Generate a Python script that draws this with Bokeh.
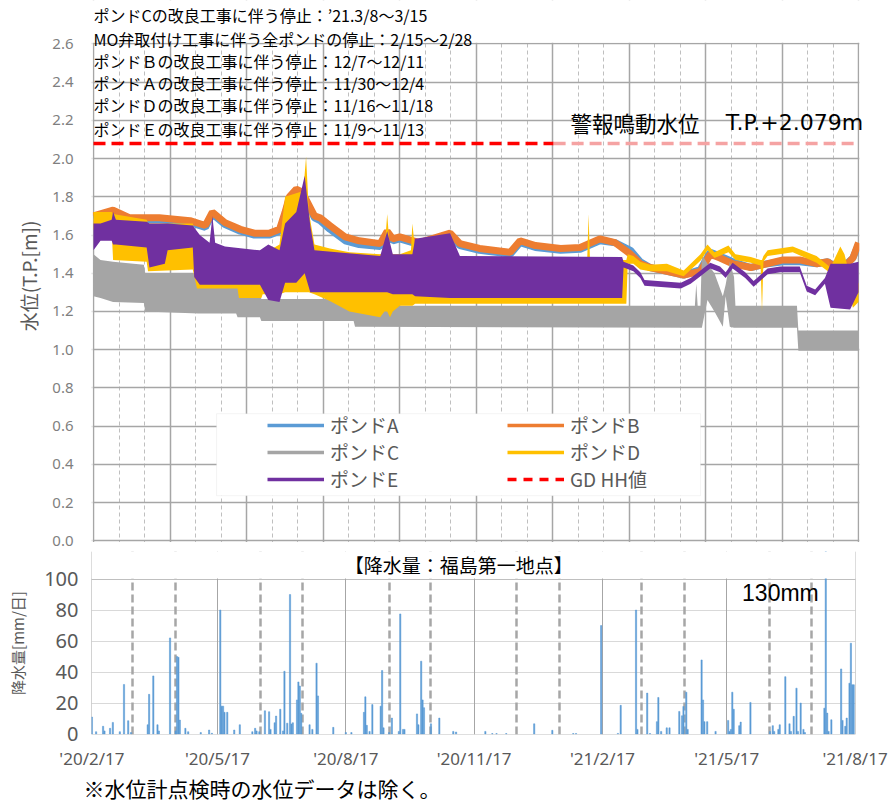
import pandas as pd
from bokeh.plotting import figure
from bokeh.models import (Range1d, FixedTicker, NumeralTickFormatter, Label, Legend,
                          LegendItem, BoxAnnotation, Grid, Title)
from bokeh.layouts import column
from bokeh.embed import file_html
from bokeh.resources import INLINE

# ---------------- data ----------------
X0, X1 = "2020-02-17", "2021-08-17"
HH_VALUE = 2.079

ab_dates = ["2020-02-17", "2020-03-02", "2020-03-14", "2020-04-04", "2020-04-26", "2020-05-07",
            "2020-05-12", "2020-05-21", "2020-06-01", "2020-06-11", "2020-06-22", "2020-06-29",
            "2020-07-03", "2020-07-06", "2020-07-11", "2020-07-14", "2020-07-17", "2020-07-24",
            "2020-07-28", "2020-08-04", "2020-08-15", "2020-08-25", "2020-09-09", "2020-09-14",
            "2020-09-18", "2020-09-23", "2020-10-07", "2020-10-29", "2020-11-05", "2020-11-19",
            "2020-12-11", "2020-12-18", "2020-12-29", "2021-01-16", "2021-01-30", "2021-02-13",
            "2021-02-24", "2021-03-07", "2021-03-14", "2021-03-21", "2021-04-02", "2021-04-14",
            "2021-04-26", "2021-05-03", "2021-05-10", "2021-05-19", "2021-06-01", "2021-06-13",
            "2021-06-24", "2021-07-06", "2021-07-18", "2021-07-26", "2021-08-04", "2021-08-13",
            "2021-08-17"]
pond_b = [1.70, 1.73, 1.69, 1.69, 1.675, 1.65, 1.72, 1.665, 1.63, 1.61, 1.61, 1.63,
          1.72, 1.80, 1.84, 1.83, 1.80, 1.70, 1.69, 1.65, 1.59, 1.57, 1.555, 1.62,
          1.58, 1.59, 1.56, 1.61, 1.555, 1.53, 1.51, 1.57, 1.545, 1.53, 1.535, 1.58,
          1.56, 1.50, 1.45, 1.43, 1.41, 1.39, 1.41, 1.50, 1.48, 1.45, 1.43, 1.45,
          1.47, 1.47, 1.45, 1.46, 1.41, 1.48, 1.56]
pond_a = [1.69, 1.72, 1.68, 1.68, 1.665, 1.64, 1.71, 1.655, 1.62, 1.60, 1.60, 1.62,
          1.71, 1.79, 1.83, 1.82, 1.79, 1.69, 1.675, 1.63, 1.57, 1.55, 1.54, 1.61,
          1.57, 1.58, 1.55, 1.60, 1.545, 1.52, 1.50, 1.56, 1.535, 1.52, 1.525, 1.57,
          1.56, 1.52, 1.46, 1.43, 1.41, 1.39, 1.42, 1.51, 1.49, 1.46, 1.43, 1.45,
          1.46, 1.46, 1.45, 1.46, 1.42, 1.48, 1.55]

c_dates = ["2020-02-17", "2020-02-22", "2020-03-02", "2020-03-24", "2020-03-25", "2020-05-02",
           "2020-05-03", "2020-05-29", "2020-05-30", "2020-06-15", "2020-06-16", "2020-08-21",
           "2020-08-22", "2021-04-22", "2021-04-23", "2021-04-24", "2021-04-26", "2021-04-27",
           "2021-05-01", "2021-05-06", "2021-05-12", "2021-05-14", "2021-05-17", "2021-05-20",
           "2021-05-21", "2021-07-04", "2021-07-05", "2021-08-17"]
c_low = [1.28, 1.27, 1.25, 1.245, 1.20, 1.19, 1.19, 1.19, 1.17, 1.17, 1.15, 1.15,
         1.12, 1.115, 1.115, 1.115, 1.115, 1.115, 1.26, 1.20, 1.12, 1.28, 1.12, 1.115,
         1.115, 1.115, 0.995, 0.995]
c_high = [1.50, 1.47, 1.46, 1.445, 1.40, 1.40, 1.345, 1.34, 1.33, 1.30, 1.265, 1.265,
          1.23, 1.23, 1.345, 1.23, 1.23, 1.50, 1.45, 1.40, 1.28, 1.34, 1.46, 1.38,
          1.23, 1.23, 1.10, 1.10]

d_dates = ["2020-02-17", "2020-03-01", "2020-03-02", "2020-03-26", "2020-03-27", "2020-04-28",
           "2020-05-01", "2020-05-30", "2020-05-31", "2020-06-16", "2020-06-17", "2020-06-29",
           "2020-07-03", "2020-07-16", "2020-07-18", "2020-07-20", "2020-07-24", "2020-08-04",
           "2020-08-18", "2020-09-09", "2020-09-12", "2020-09-14", "2020-09-16", "2020-09-18",
           "2020-09-23", "2020-10-01", "2020-10-02", "2020-10-04", "2020-11-01", "2021-02-04",
           "2021-02-05", "2021-02-06", "2021-03-04", "2021-03-05", "2021-03-09", "2021-03-14",
           "2021-03-21", "2021-04-02", "2021-04-14", "2021-04-26", "2021-05-01", "2021-05-06",
           "2021-05-16", "2021-05-21", "2021-06-01", "2021-06-08", "2021-06-09", "2021-06-10",
           "2021-06-13", "2021-07-01", "2021-07-18", "2021-07-28", "2021-08-04", "2021-08-07",
           "2021-08-13", "2021-08-17"]
d_low = [1.63, 1.62, 1.47, 1.46, 1.41, 1.42, 1.32, 1.32, 1.27, 1.27, 1.29, 1.29,
         1.30, 1.30, 1.30, 1.30, 1.29, 1.255, 1.20, 1.17, 1.20, 1.20, 1.17, 1.20,
         1.23, 1.23, 1.23, 1.24, 1.24, 1.24, 1.24, 1.24, 1.24, 1.45, 1.45, 1.42,
         1.41, 1.41, 1.385, 1.465, 1.52, 1.48, 1.51, 1.47, 1.455, 1.44, 1.20, 1.46,
         1.49, 1.51, 1.455, 1.40, 1.45, 1.40, 1.22, 1.25]
d_high = [1.72, 1.72, 1.71, 1.68, 1.66, 1.66, 1.55, 1.52, 1.52, 1.50, 1.50, 1.55,
          1.80, 1.83, 2.01, 1.72, 1.55, 1.53, 1.51, 1.50, 1.51, 1.71, 1.52, 1.50,
          1.50, 1.52, 1.66, 1.52, 1.47, 1.47, 1.71, 1.47, 1.47, 1.50, 1.49, 1.46,
          1.445, 1.45, 1.415, 1.50, 1.55, 1.51, 1.545, 1.50, 1.485, 1.47, 1.47, 1.49,
          1.52, 1.54, 1.49, 1.43, 1.54, 1.50, 1.32, 1.35]

e_dates = ["2020-02-17", "2020-02-22", "2020-03-01", "2020-03-02", "2020-03-04", "2020-03-26",
           "2020-03-28", "2020-04-08", "2020-04-10", "2020-04-28", "2020-04-29", "2020-05-03",
           "2020-05-10", "2020-05-12", "2020-05-14", "2020-05-21", "2020-06-15", "2020-06-21",
           "2020-06-29", "2020-07-03", "2020-07-11", "2020-07-17", "2020-07-21", "2020-07-24",
           "2020-09-09", "2020-09-14", "2020-09-18", "2020-10-02", "2020-10-04", "2020-10-29",
           "2020-11-05", "2021-03-01", "2021-03-02", "2021-03-09", "2021-03-14", "2021-03-17",
           "2021-04-12", "2021-04-19", "2021-04-26", "2021-05-03", "2021-05-10", "2021-05-14",
           "2021-05-19", "2021-05-28", "2021-06-03", "2021-06-13", "2021-06-22", "2021-07-06",
           "2021-07-11", "2021-07-17", "2021-07-24", "2021-07-28", "2021-08-11", "2021-08-17"]
e_low = [1.52, 1.57, 1.57, 1.55, 1.55, 1.535, 1.43, 1.45, 1.52, 1.535, 1.38, 1.34,
         1.34, 1.34, 1.34, 1.34, 1.34, 1.26, 1.25, 1.35, 1.35, 1.40, 1.30, 1.30,
         1.30, 1.30, 1.29, 1.29, 1.28, 1.27, 1.27, 1.27, 1.43, 1.41, 1.375, 1.335,
         1.32, 1.345, 1.385, 1.425, 1.405, 1.375, 1.425, 1.375, 1.33, 1.395, 1.405, 1.405,
         1.305, 1.285, 1.345, 1.22, 1.21, 1.30]
e_high = [1.66, 1.66, 1.68, 1.72, 1.68, 1.67, 1.66, 1.66, 1.66, 1.65, 1.64, 1.60,
          1.56, 1.70, 1.56, 1.54, 1.52, 1.55, 1.52, 1.66, 1.72, 1.91, 1.65, 1.52,
          1.49, 1.62, 1.50, 1.50, 1.58, 1.61, 1.49, 1.485, 1.46, 1.44, 1.405, 1.365,
          1.35, 1.375, 1.415, 1.455, 1.435, 1.405, 1.455, 1.405, 1.36, 1.425, 1.435, 1.435,
          1.335, 1.315, 1.375, 1.45, 1.45, 1.46]

rain_dates = ["2020-02-17", "2020-02-20", "2020-02-25", "2020-02-26", "2020-03-01", "2020-03-03",
              "2020-03-08", "2020-03-11", "2020-03-14", "2020-03-16", "2020-03-28", "2020-03-29",
              "2020-04-01", "2020-04-04", "2020-04-05", "2020-04-13", "2020-04-17", "2020-04-18",
              "2020-04-19", "2020-04-20", "2020-04-24", "2020-04-26", "2020-05-05", "2020-05-11",
              "2020-05-13", "2020-05-19", "2020-05-20", "2020-05-21", "2020-05-22", "2020-05-24",
              "2020-05-29", "2020-06-02", "2020-06-11", "2020-06-13", "2020-06-14", "2020-06-16",
              "2020-06-20", "2020-06-23", "2020-06-24", "2020-06-27", "2020-06-28", "2020-07-01",
              "2020-07-03", "2020-07-04", "2020-07-06", "2020-07-08", "2020-07-09", "2020-07-10",
              "2020-07-13", "2020-07-14", "2020-07-15", "2020-07-16", "2020-07-22", "2020-07-24",
              "2020-07-27", "2020-07-28", "2020-08-08", "2020-08-17", "2020-08-21", "2020-08-30",
              "2020-08-31", "2020-09-01", "2020-09-03", "2020-09-05", "2020-09-11", "2020-09-12",
              "2020-09-13", "2020-09-17", "2020-09-19", "2020-09-24", "2020-09-25", "2020-09-27",
              "2020-09-28", "2020-10-07", "2020-10-08", "2020-10-10", "2020-10-11", "2020-10-12",
              "2020-10-17", "2020-10-23", "2020-11-02", "2020-11-04", "2020-11-25", "2020-11-30",
              "2020-12-03", "2020-12-10", "2020-12-30", "2021-01-12", "2021-01-27", "2021-01-29",
              "2021-02-16", "2021-02-28", "2021-03-02", "2021-03-13", "2021-03-14", "2021-03-21",
              "2021-03-23", "2021-03-28", "2021-03-29", "2021-03-31", "2021-04-04", "2021-04-06",
              "2021-04-13", "2021-04-15", "2021-04-16", "2021-04-18", "2021-04-19", "2021-04-29",
              "2021-04-30", "2021-05-01", "2021-05-03", "2021-05-09", "2021-05-18", "2021-05-19",
              "2021-05-20", "2021-05-21", "2021-05-22", "2021-05-26", "2021-05-27", "2021-06-03",
              "2021-06-17", "2021-06-19", "2021-06-20", "2021-06-23", "2021-06-24", "2021-06-28",
              "2021-07-01", "2021-07-02", "2021-07-04", "2021-07-06", "2021-07-07", "2021-07-09",
              "2021-07-11", "2021-07-12", "2021-07-26", "2021-07-27", "2021-07-28", "2021-07-29",
              "2021-07-31", "2021-08-07", "2021-08-08", "2021-08-10", "2021-08-11", "2021-08-13",
              "2021-08-14", "2021-08-15", "2021-08-16"]
rain_mm = [11, 1.5, 5, 2, 3.7, 7.5, 1.5, 32, 8.6, 1, 6, 25.6,
           37.5, 6, 2, 62, 2, 50, 49.5, 9, 3.7, 1.5, 1, 2.6,
           0.5, 80, 18, 18, 14, 14, 2.6, 6, 1.5, 3.7, 2, 1.5,
           15, 14.4, 3, 7.3, 11.6, 16, 2, 40.5, 7, 90, 6.5, 7.3,
           22, 33.6, 31, 13.4, 6, 3, 45.7, 24.6, 4.3, 1, 1, 14,
           24, 5.6, 1.7, 19, 18, 41, 4, 1, 10.3, 1.7, 77.5, 3,
           3, 13, 6, 47, 22, 17, 6.6, 10.3, 1.7, 1.3, 1.7, 0.3,
           0.3, 0.3, 6.6, 2.4, 0.3, 0.3, 70, 0.4, 18.5, 80, 3, 26.4,
           0.3, 8, 23.6, 1.7, 4, 4, 14.6, 11.8, 17.8, 27, 3, 47.8,
           22, 8, 8, 1.7, 8.8, 1.7, 3, 27, 16, 5.4, 7.7, 20.4,
           1.7, 5.4, 1.7, 3, 6, 37, 6.6, 1.7, 11.4, 29.6, 1.7, 20,
           3, 1, 16.7, 130, 13.5, 1.7, 9.2, 42, 8.8, 5, 10.3, 32.8,
           58.6, 31.8, 31.8]

rain_tick_dates = ["2020-02-17", "2020-05-17", "2020-08-17", "2020-11-17",
                   "2021-02-17", "2021-05-17", "2021-08-17"]
rain_tick_labels = ["'20/2/17", "'20/5/17", "'20/8/17", "'20/11/17",
                    "'21/2/17", "'21/5/17", "'21/8/17"]

series_names = ["ポンドA", "ポンドB", "ポンドC", "ポンドD", "ポンドE"]
hh_name = "GD HH値"
notes = [
    "ポンドCの改良工事に伴う停止：’21.3/8～3/15",
    "MO弁取付け工事に伴う全ポンドの停止：2/15～2/28",
    "ポンドＢの改良工事に伴う停止：12/7～12/11",
    "ポンドＡの改良工事に伴う停止：11/30～12/4",
    "ポンドＤの改良工事に伴う停止：11/16～11/18",
    "ポンドＥの改良工事に伴う停止：11/9～11/13",
]
alarm_text_jp = "警報鳴動水位"
alarm_text_val = "T.P.+2.079m"
rain_title = "【降水量：福島第一地点】"
rain_note = "130mm"
footnote = "※水位計点検時の水位データは除く。"

# ---------------- helpers / styles ----------------
DAY = 86400000.0


def ms(s):
    return pd.Timestamp(s).value / 1e6


def msl(lst):
    return [ms(s) for s in lst]


JP = "Noto Sans CJK JP"
NUM = "Noto Sans"
COL_A, COL_B, COL_C, COL_D, COL_E = "#5B9BD5", "#ED7D31", "#A5A5A5", "#FFC000", "#7030A0"
GRID = "#A6A6A6"

PXD = 765.0 / 547.0       # pixels per day in the top chart
YPX = 191.1               # pixels per metre in the top chart
Y0PX = 540.3              # page y of the 0.0 line
LEFT = 91                 # common left border of both charts

# ---------------- top chart ----------------
TOP_FRAME_W = 888 - LEFT
TOP_FRAME_H = 551
x_start = ms(X0) - (93 - LEFT) / PXD * DAY
x_end = x_start + TOP_FRAME_W / PXD * DAY
y_start = (Y0PX - TOP_FRAME_H) / YPX
y_end = Y0PX / YPX

p = figure(frame_width=TOP_FRAME_W, frame_height=TOP_FRAME_H, min_border_left=LEFT,
           min_border_right=0, min_border_top=0, min_border_bottom=0,
           x_range=Range1d(x_start, x_end), y_range=Range1d(y_start, y_end),
           x_axis_location=None, output_backend="svg", toolbar_location=None,
           background_fill_color="white", border_fill_color="white")
p.grid.visible = False
p.outline_line_color = None

majors = [ms(X0) + (ms(X1) - ms(X0)) * i / 10 for i in range(11)]
minors = [ms(X0) + (ms(X1) - ms(X0)) * i / 30 for i in range(31) if i % 3]
yticks = [round(i * 0.2, 1) for i in range(14)]
p.add_layout(Grid(dimension=0, ticker=FixedTicker(ticks=majors, minor_ticks=minors),
                  grid_line_color=GRID, grid_line_width=1.5,
                  minor_grid_line_color="#BFBFBF", minor_grid_line_width=1,
                  minor_grid_line_dash="4 3"))
p.add_layout(Grid(dimension=1, ticker=FixedTicker(ticks=yticks),
                  grid_line_color=GRID, grid_line_width=1.5))

ya = p.yaxis[0]
ya.ticker = FixedTicker(ticks=yticks)
ya.formatter = NumeralTickFormatter(format="0.0")
ya.axis_line_color = None
ya.major_tick_line_color = None
ya.minor_tick_line_color = None
ya.major_tick_out = 0
ya.minor_tick_out = 0
ya.major_label_text_color = "#7F7F7F"
ya.major_label_text_font = NUM
ya.major_label_text_font_size = "15px"
ya.major_label_standoff = 18
ya.axis_label = "水位(T.P.[m])"
ya.axis_label_text_font = JP
ya.axis_label_text_font_size = "19px"
ya.axis_label_text_font_style = "normal"
ya.axis_label_text_color = "#595959"
ya.axis_label_standoff = 7

p.line(msl(ab_dates), pond_a, line_color=COL_A, line_width=7)
p.line(msl(ab_dates), pond_b, line_color=COL_B, line_width=7)
p.varea(x=msl(c_dates), y1=c_low, y2=c_high, fill_color=COL_C)
p.varea(x=msl(d_dates), y1=d_low, y2=d_high, fill_color=COL_D)
p.varea(x=msl(e_dates), y1=e_low, y2=e_high, fill_color=COL_E)

HH_SPLIT = "2021-01-11"
p.line([ms(X0), ms(HH_SPLIT)], [HH_VALUE, HH_VALUE], line_color="#FF0000",
       line_width=3.5, line_dash="12 6")
p.line([ms(HH_SPLIT), ms(X1)], [HH_VALUE, HH_VALUE], line_color="#F5A3A3",
       line_width=3.5, line_dash="12 6")

# white covers outside the 0..2.6 plot area (so the frame can hold the texts)
for kw in (dict(bottom=2.606), dict(top=-0.006), dict(left=ms(X1) + 0.6 * DAY),
           dict(right=ms(X0) - 0.6 * DAY)):
    p.add_layout(BoxAnnotation(fill_color="white", fill_alpha=1.0, line_color=None, **kw))

# legend box
p.add_layout(BoxAnnotation(left=ms("2020-05-15"), right=ms("2021-04-26"), bottom=0.236, top=0.665,
                           fill_color="white", fill_alpha=1.0, line_color="#D9D9D9", line_width=1))

leg_r = {}
dummy_x = [ms(X0), ms(X0) + DAY]
dummy_y = [-5, -5]
for name, col in zip(series_names, [COL_A, COL_B, COL_C, COL_D, COL_E]):
    leg_r[name] = p.line(dummy_x, dummy_y, line_color=col, line_width=3.5)
leg_r[hh_name] = p.line(dummy_x, dummy_y, line_color="#FF0000", line_width=3.5, line_dash="9 7")


def mk_legend(names, loc):
    lg = Legend(items=[LegendItem(label=n, renderers=[leg_r[n]]) for n in names],
                location=loc, orientation="vertical", glyph_width=57, glyph_height=26,
                label_height=26, spacing=0, padding=0, margin=0, label_standoff=6,
                background_fill_alpha=0, border_line_alpha=0,
                label_text_font=JP, label_text_font_size="19px", label_text_color="#595959")
    p.add_layout(lg)


leg_bottom = TOP_FRAME_H - 492
mk_legend([series_names[0], series_names[2], series_names[4]], (267 - LEFT, leg_bottom))
mk_legend([series_names[1], series_names[3], hh_name], (507 - LEFT, leg_bottom))

note_y = [2.749, 2.628, 2.513, 2.393, 2.278, 2.157]
for t, yv in zip(notes, note_y):
    p.add_layout(Label(x=ms(X0), y=yv, text=t, text_font=JP, text_font_size="16px",
                       text_color="#000000", text_align="left", text_baseline="middle"))
p.add_layout(Label(x=ms("2021-01-23"), y=2.188, text=alarm_text_jp, text_font=JP,
                   text_font_size="21.5px", text_color="#000000", text_align="left",
                   text_baseline="middle"))
p.add_layout(Label(x=ms("2021-05-14"), y=2.188, text=alarm_text_val, text_font="DejaVu Sans",
                   text_font_size="22px", text_color="#000000", text_align="left",
                   text_baseline="middle"))

# ---------------- rainfall chart ----------------
R_FRAME_W = 764
R_FRAME_H = 734 - TOP_FRAME_H
RPX = 1.55                 # pixels per mm
rx_start = ms(X0) - 0.3 * DAY
rx_end = ms(X1) + 0.3 * DAY
ry_start = -0.3
ry_end = ry_start + R_FRAME_H / RPX

q = figure(frame_width=R_FRAME_W, frame_height=R_FRAME_H, min_border_left=LEFT,
           min_border_right=888 - LEFT - R_FRAME_W, min_border_top=0, min_border_bottom=0,
           x_range=Range1d(rx_start, rx_end), y_range=Range1d(ry_start, ry_end),
           output_backend="svg", toolbar_location=None,
           background_fill_color="white", border_fill_color="white")
q.grid.visible = False
q.outline_line_color = None

months = [ms(d) for d in pd.date_range(X0, X1, freq=pd.DateOffset(months=1))]
quarters = msl(rain_tick_dates)
monthly = [m for m in months if m not in quarters]
q.add_layout(Grid(dimension=1, ticker=FixedTicker(ticks=[20, 40, 60, 80]),
                  grid_line_color="#D9D9D9", grid_line_width=1))
q.add_layout(Grid(dimension=1, ticker=FixedTicker(ticks=[0, 100]),
                  grid_line_color="#BFBFBF", grid_line_width=1))
q.add_layout(Grid(dimension=0, ticker=FixedTicker(ticks=quarters, minor_ticks=monthly),
                  grid_line_color=GRID, grid_line_width=1,
                  minor_grid_line_color=GRID, minor_grid_line_width=2.5,
                  minor_grid_line_dash="8 4"))

q.vbar(x=msl(rain_dates), top=rain_mm, width=DAY * 0.9, fill_color=COL_A,
       line_color=COL_A, line_width=0.5)

# white cover above the 100 line (holds the rainfall title)
q.add_layout(BoxAnnotation(bottom=100.4, fill_color="white", fill_alpha=1.0, line_color=None))

xa = q.xaxis[0]
xa.ticker = FixedTicker(ticks=quarters)
xa.major_label_overrides = {int(t): l for t, l in zip(quarters, rain_tick_labels)}
xa.axis_line_color = None
xa.major_tick_line_color = None
xa.minor_tick_line_color = None
xa.major_tick_out = 0
xa.minor_tick_out = 0
xa.major_label_text_color = "#595959"
xa.major_label_text_font = NUM
xa.major_label_text_font_size = "17px"
xa.major_label_standoff = 12

yb = q.yaxis[0]
yb.ticker = FixedTicker(ticks=[0, 20, 40, 60, 80, 100])
yb.axis_line_color = None
yb.major_tick_line_color = None
yb.minor_tick_line_color = None
yb.major_tick_out = 0
yb.minor_tick_out = 0
yb.major_label_text_color = "#595959"
yb.major_label_text_font = NUM
yb.major_label_text_font_size = "20px"
yb.major_label_standoff = 13
yb.axis_label = "降水量[mm/日]"
yb.axis_label_text_font = JP
yb.axis_label_text_font_size = "15px"
yb.axis_label_text_font_style = "normal"
yb.axis_label_text_color = "#595959"
yb.axis_label_standoff = 13

q.add_layout(Label(x=ms("2020-11-06"), y=100 + (579 - 564.5) / RPX, text=rain_title, text_font=JP,
                   text_font_size="19px", text_color="#000000", text_align="center",
                   text_baseline="middle"))
q.add_layout(Label(x=ms("2021-05-28"), y=91, text=rain_note, text_font="Liberation Sans",
                   text_font_size="23px", text_color="#000000", text_align="left",
                   text_baseline="middle"))
q.add_layout(Title(text=footnote, align="left", offset=83 - LEFT, standoff=0,
                   vertical_align="top", text_font=JP, text_font_size="21px",
                   text_font_style="normal", text_color="#000000"), "below")

layout = column(p, q, spacing=0)
open("out.html", "w").write(file_html(layout, INLINE))
